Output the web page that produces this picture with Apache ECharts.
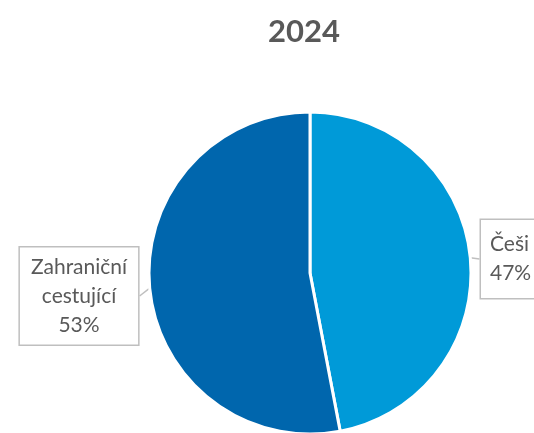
<!DOCTYPE html>
<html><head><meta charset="utf-8">
<script src="https://cdn.jsdelivr.net/npm/echarts@6/dist/echarts.min.js"></script>
<style>html,body{margin:0;padding:0;background:#fff}#c{width:534px;height:433px}</style>
</head><body><div id="c"></div>
<script>
const titleText = '2024';
const categories = ['Češi', 'Zahraniční\ncestující'];
const values = [47, 53];
const colors = ['#009ad8', '#0066ad'];

const chart = echarts.init(document.getElementById('c'), null, {renderer: 'canvas'});
const labelStyles = [
  {x: 481, y: 259, align: 'left', padding: [10, 9, 10, 9], width: 70},
  {x: 79, y: 296, align: 'center', padding: [5, 11, 5, 11]}
];
chart.setOption({
  animation: false,
  title: {
    text: titleText, left: 299, top: 11, textAlign: 'center',
    textStyle: {fontFamily: 'Lato, "Open Sans", sans-serif', fontSize: 31, fontWeight: 'bold', color: '#595959'}
  },
  series: [{
    type: 'pie',
    center: [310, 273],
    radius: 161,
    startAngle: 90,
    clockwise: true,
    itemStyle: {borderColor: '#ffffff', borderWidth: 3},
    data: categories.map((c, i) => {
      const s = labelStyles[i];
      const lab = {padding: s.padding, align: s.align};
      if (s.width) lab.width = s.width;
      return {name: c, value: values[i], itemStyle: {color: colors[i]}, label: lab};
    }),
    label: {
      show: true,
      formatter: p => p.name + '\n' + p.percent.toFixed(0) + '%',
      fontFamily: 'Lato, "Open Sans", sans-serif',
      fontSize: 21,
      lineHeight: 29,
      color: '#595959',
      overflow: 'none',
      backgroundColor: '#ffffff',
      borderColor: '#bfbfbf',
      borderWidth: 1.5
    },
    labelLine: {show: true, length: 8, length2: 0, lineStyle: {color: '#bfbfbf', width: 1.5}},
    labelLayout: p => ({x: labelStyles[p.dataIndex].x, y: labelStyles[p.dataIndex].y, align: labelStyles[p.dataIndex].align, verticalAlign: 'middle'})
  }]
});
</script></body></html>
